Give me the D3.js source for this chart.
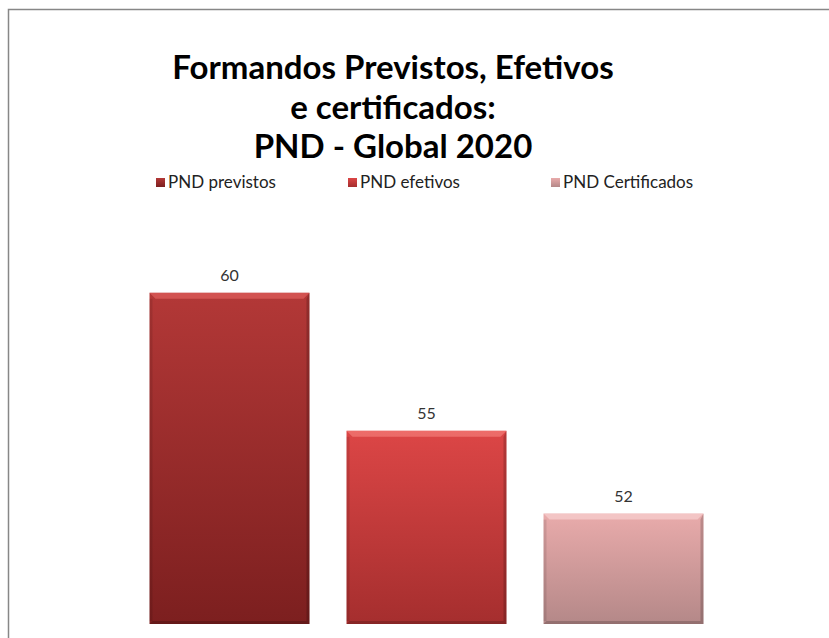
<!DOCTYPE html>
<html>
<head>
<meta charset="utf-8">
<script src="https://cdn.jsdelivr.net/npm/d3@7"></script>
<style>
  body { margin: 0; background: #fff; }
  svg { display: block; }
</style>
</head>
<body>
<script>
// DATA
const seriesNames = ['PND previstos', 'PND efetivos', 'PND Certificados'];
const seriesValues = [60, 55, 52];
const titleLines = ['Formandos Previstos, Efetivos', 'e certificados:', 'PND - Global 2020'];
const yDomain = [48, 62];

const chartConfig = { w: 829, h: 638 };
const fontFamily = 'Lato, "Open Sans", sans-serif';

// top colour, bottom colour, highlight
const palette = [
    { top: '#b33837', bottom: '#7c1f1f', light: '#e0605c' },
    { top: '#dc4646', bottom: '#a52e2e', light: '#f47c78' },
    { top: '#e9abab', bottom: '#b48888', light: '#f8d0d0' }
];

const svg = d3.select('body')
    .append('svg')
    .attr('width', chartConfig.w)
    .attr('height', chartConfig.h);

const defs = svg.append('defs');

palette.forEach(function(c, i) {
    const g = defs.append('linearGradient')
        .attr('id', 'grad' + i)
        .attr('x1', 0).attr('y1', 0).attr('x2', 0).attr('y2', 1);
    g.append('stop').attr('offset', '0%').attr('stop-color', c.top);
    g.append('stop').attr('offset', '100%').attr('stop-color', c.bottom);
});

// chart border
svg.append('rect')
    .attr('x', 8.5)
    .attr('y', 9.5)
    .attr('width', 900)
    .attr('height', 700)
    .attr('fill', 'none')
    .attr('stroke', '#878787')
    .attr('stroke-width', 1.5);

// SCALES
const xScale = d3.scaleBand()
    .domain(seriesNames)
    .range([131, 722])
    .paddingInner(0.188)
    .paddingOuter(0.094);

const yScale = d3.scaleLinear()
    .domain(yDomain)
    .range([624, 624 - 14 * 27.6]);

// BARS
const bars = svg.selectAll('g.bar')
    .data(seriesValues)
    .enter()
    .append('g')
    .attr('class', 'bar');

const bev = 6;

bars.append('rect')
    .attr('x', function(d, i) { return xScale(seriesNames[i]); })
    .attr('y', function(d) { return yScale(d); })
    .attr('width', xScale.bandwidth())
    .attr('height', function(d) { return yScale(yDomain[0]) - yScale(d); })
    .attr('fill', function(d, i) { return 'url(#grad' + i + ')'; });

// top bevel highlight
bars.append('path')
    .attr('d', function(d, i) {
        const x0 = xScale(seriesNames[i]);
        const x1 = x0 + xScale.bandwidth();
        const y0 = yScale(d);
        return 'M' + x0 + ',' + y0 + 'L' + x1 + ',' + y0 + 'L' + (x1 - bev) + ',' + (y0 + bev) +
            'L' + (x0 + bev) + ',' + (y0 + bev) + 'Z';
    })
    .attr('fill', function(d, i) { return palette[i].light; })
    .attr('opacity', 0.7);

// side and bottom shading
bars.append('path')
    .attr('d', function(d, i) {
        const x0 = xScale(seriesNames[i]);
        const x1 = x0 + xScale.bandwidth();
        const y0 = yScale(d);
        const y1 = yScale(yDomain[0]);
        return 'M' + x1 + ',' + y0 + 'L' + x1 + ',' + y1 + 'L' + x0 + ',' + y1 +
            'L' + (x0 + 3) + ',' + (y1 - 3) + 'L' + (x1 - 3) + ',' + (y1 - 3) +
            'L' + (x1 - 3) + ',' + (y0 + bev) + 'Z';
    })
    .attr('fill', '#000')
    .attr('opacity', 0.18);

bars.append('rect')
    .attr('x', function(d, i) { return xScale(seriesNames[i]); })
    .attr('y', function(d) { return yScale(d) + bev; })
    .attr('width', 3)
    .attr('height', function(d) { return yScale(yDomain[0]) - yScale(d) - bev - 3; })
    .attr('fill', '#000')
    .attr('opacity', 0.1);

// DATA LABELS
bars.append('text')
    .text(function(d) { return d; })
    .attr('x', function(d, i) { return xScale(seriesNames[i]) + xScale.bandwidth() / 2; })
    .attr('y', function(d) { return yScale(d) - 12; })
    .attr('text-anchor', 'middle')
    .attr('font-family', fontFamily)
    .attr('font-size', '16px')
    .attr('fill', '#333');

// TITLE
const title = svg.append('text')
    .attr('text-anchor', 'middle')
    .attr('font-family', fontFamily)
    .attr('font-weight', 'bold')
    .attr('font-size', '33px')
    .attr('fill', '#000');

title.selectAll('tspan')
    .data(titleLines)
    .enter()
    .append('tspan')
    .attr('x', 393)
    .attr('y', function(d, i) { return 79 + i * 39.5; })
    .text(function(d) { return d; });

// LEGEND
const legendX = [156, 348, 551];

const legend = svg.selectAll('g.legend')
    .data(seriesNames)
    .enter()
    .append('g')
    .attr('class', 'legend')
    .attr('transform', function(d, i) { return 'translate(' + legendX[i] + ',182)'; });

legend.append('rect')
    .attr('x', 0)
    .attr('y', -4)
    .attr('width', 9)
    .attr('height', 9)
    .attr('fill', function(d, i) { return 'url(#grad' + i + ')'; });

legend.append('text')
    .text(function(d) { return d; })
    .attr('x', 12)
    .attr('y', 6)
    .attr('font-family', fontFamily)
    .attr('font-size', '17px')
    .attr('fill', '#222');
</script>
</body>
</html>
